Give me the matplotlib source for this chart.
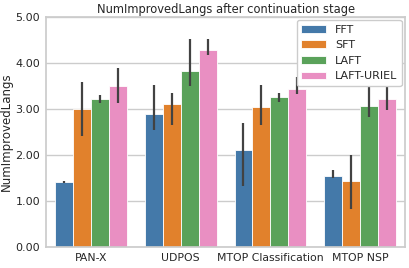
import numpy as np
import matplotlib
matplotlib.use("Agg")
import matplotlib.pyplot as plt
import seaborn as sns

# tasks and methods
tasks = ["PAN-X", "UDPOS", "MTOP Classification", "MTOP NSP"]
methods = ["FFT", "SFT", "LAFT", "LAFT-URIEL"]

# mean values per method (one per task)
fft = [1.41, 2.88, 2.10, 1.54]
sft = [2.99, 3.11, 3.05, 1.43]
laft = [3.21, 3.83, 3.27, 3.06]
laft_uriel = [3.50, 4.29, 3.44, 3.22]

# confidence interval bounds (low, high)
fft_ci = [(1.40, 1.43), (2.55, 3.52), (1.32, 2.69), (1.49, 1.68)]
sft_ci = [(2.42, 3.59), (2.66, 3.35), (2.65, 3.52), (0.82, 2.01)]
laft_ci = [(3.14, 3.30), (3.50, 4.53), (3.16, 3.35), (2.82, 3.60)]
laft_uriel_ci = [(3.14, 3.88), (4.17, 4.53), (3.32, 3.69), (2.98, 3.70)]

colors = ["#4479a9", "#e1812c", "#5aa25a", "#e98fc2"]

sns.set_theme(style="whitegrid")
plt.rcParams['font.family'] = ['DejaVu Sans']

fig, ax = plt.subplots(figsize=(4.09, 2.68), dpi=100)
fig.subplots_adjust(left=0.113, right=0.99, top=0.937, bottom=0.078)

x = np.arange(len(tasks))
w = 0.2
series = [fft, sft, laft, laft_uriel]
cis = [fft_ci, sft_ci, laft_ci, laft_uriel_ci]
for i, (name, vals, ci) in enumerate(zip(methods, series, cis)):
    pos = x - 0.3 + i * w
    ax.bar(pos, vals, width=w, color=colors[i], edgecolor="white",
           linewidth=0.6, label=name, zorder=2)
    lo = [c[0] for c in ci]
    hi = [c[1] for c in ci]
    ax.vlines(pos, lo, hi, color="#424242", linewidth=1.6, zorder=3)

ax.set_xlim(-0.5, 3.5)
ax.set_ylim(0, 5)
ax.set_yticks([0, 1, 2, 3, 4, 5])
ax.yaxis.set_major_formatter(matplotlib.ticker.FormatStrFormatter("%.2f"))
ax.set_xticks(x)
ax.set_xticklabels(tasks)
ax.tick_params(axis="x", labelsize=7.8, length=0, pad=4)
ax.tick_params(axis="y", labelsize=8, length=0, pad=4.5)
ax.xaxis.grid(False)
ax.set_ylabel("NumImprovedLangs", fontsize=8.5, labelpad=1.5)
ax.set_title("NumImprovedLangs after continuation stage", fontsize=8.3, pad=3)
leg = ax.legend(loc="upper right", fontsize=8, framealpha=1,
                borderaxespad=0.3, handlelength=2.2)
leg.set_zorder(5)

fig.savefig("out.png", dpi=100)
